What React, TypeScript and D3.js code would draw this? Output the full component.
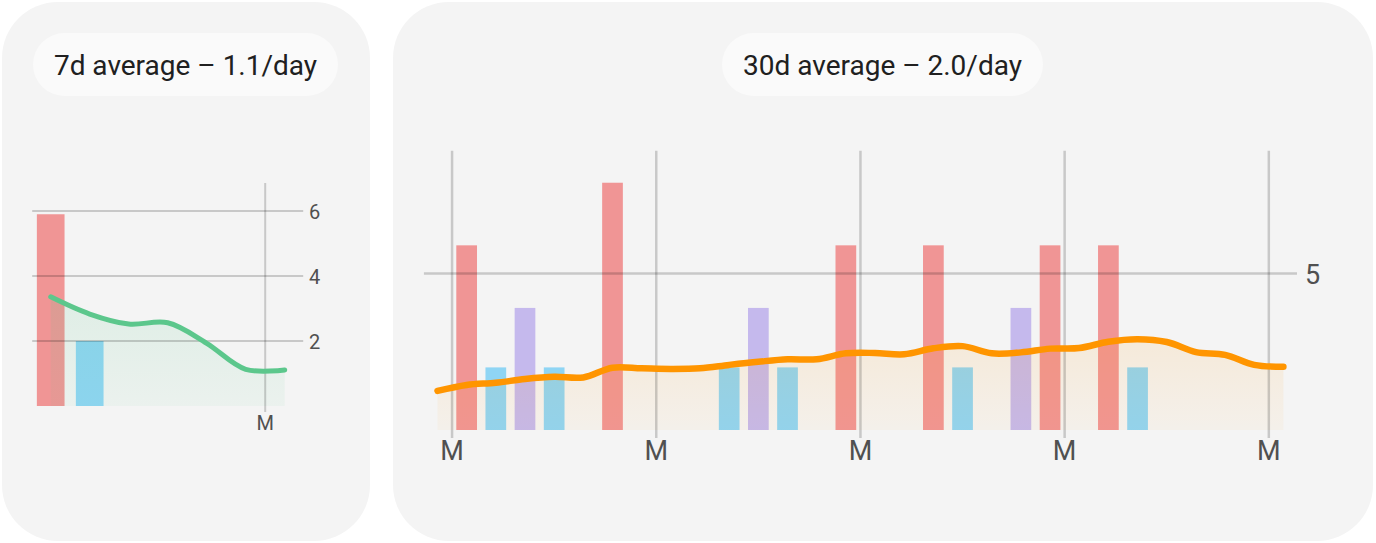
import * as d3 from 'd3';
import React, { useEffect, useRef } from 'react';

// daily counts for the last 30 days, one bar colour per kind
const redBars = [0, 5.9, 0, 0, 0, 0, 7.9, 0, 0, 0, 0, 0, 0, 0, 5.9, 0, 0, 5.9, 0, 0, 0, 5.9, 0, 5.9, 0, 0, 0, 0, 0, 0];
const blueBars = [0, 0, 2, 0, 2, 0, 0, 0, 0, 0, 2, 0, 2, 0, 0, 0, 0, 0, 2, 0, 0, 0, 0, 0, 2, 0, 0, 0, 0, 0];
const purpleBars = [0, 0, 0, 3.9, 0, 0, 0, 0, 0, 0, 0, 3.9, 0, 0, 0, 0, 0, 0, 0, 0, 3.9, 0, 0, 0, 0, 0, 0, 0, 0, 0];

// rolling averages
const avg30 = [
  1.25, 1.44, 1.51, 1.63, 1.7, 1.68, 1.99, 1.97, 1.95, 1.97, 2.08, 2.18, 2.26, 2.26, 2.45,
  2.46, 2.42, 2.61, 2.68, 2.45, 2.48, 2.6, 2.62, 2.82, 2.9, 2.81, 2.49, 2.4, 2.08, 2.02,
];
const avg7 = [3.36, 2.83, 2.52, 2.56, 1.93, 1.13, 1.11];

// the 7d panel shows the last week of the 30 days
const weekStart = 23;

const mondays30 = [1, 8, 15, 22, 29];
const mondays7 = [6];
const yTicks30 = [5];
const yTicks7 = [2, 4, 6];
const titles = ['7d average – 1.1/day', '30d average – 2.0/day'];

const colors = {
  red: '#f09595',
  blue: '#8fd5f4',
  purple: '#c5b9ed',
  panel: '#f4f4f4',
  pill: '#fafafa',
  grid: 'rgba(0,0,0,0.18)',
  label: '#505050',
};

const FONT = 'Roboto, sans-serif';

type PanelCfg = {
  id: string;
  title: string;
  box: [number, number, number, number];
  pill: [number, number, number, number];
  red: number[];
  blue: number[];
  purple: number[];
  avg: number[];
  mondays: number[];
  yTicks: number[];
  xRange: [number, number];
  yRange: [number, number];
  yMax: number;
  lineColor: string;
  lineWidth: number;
  gridWidth: number;
  areaTop: number;
  areaBottom: number;
  fontSize: number;
  tickX: number;
  mBelow: number;
  mLabelY: number;
};

const drawPanel = (svg: any, cfg: PanelCfg) => {
  const g = svg.append('g');
  const [bx, by, bw, bh] = cfg.box;
  g.append('rect')
    .attr('x', bx)
    .attr('y', by)
    .attr('width', bw)
    .attr('height', bh)
    .attr('rx', 56)
    .attr('fill', colors.panel);

  const [px, py, pw, ph] = cfg.pill;
  g.append('rect')
    .attr('x', px)
    .attr('y', py)
    .attr('width', pw)
    .attr('height', ph)
    .attr('rx', ph / 2)
    .attr('fill', colors.pill);
  g.append('text')
    .attr('x', px + pw / 2)
    .attr('y', py + ph / 2 + 1)
    .attr('text-anchor', 'middle')
    .attr('dominant-baseline', 'central')
    .style('font-family', FONT)
    .style('font-size', '28px')
    .style('fill', '#202020')
    .text(cfg.title);

  const days = d3.range(cfg.avg.length);
  const x = d3.scaleBand<number>().domain(days).range(cfg.xRange).paddingInner(0.29).paddingOuter(0.145);
  const y = d3.scaleLinear().domain([0, cfg.yMax]).range(cfg.yRange);
  const cx = (i: number) => (x(i) as number) + x.bandwidth() / 2;
  const slotStart = (i: number) => (x(i) as number) - (x.step() * x.paddingInner()) / 2;

  const series = [
    { values: cfg.red, color: colors.red },
    { values: cfg.blue, color: colors.blue },
    { values: cfg.purple, color: colors.purple },
  ];
  series.forEach((s) => {
    g.append('g')
      .selectAll('rect')
      .data(s.values.map((v, i) => ({ v, i })).filter((d) => d.v > 0))
      .enter()
      .append('rect')
      .attr('x', (d: any) => x(d.i))
      .attr('y', (d: any) => y(d.v))
      .attr('width', x.bandwidth())
      .attr('height', (d: any) => y(0) - y(d.v))
      .attr('fill', s.color);
  });

  // area under the average line
  const grad = svg
    .append('defs')
    .append('linearGradient')
    .attr('id', cfg.id + '-grad')
    .attr('gradientUnits', 'userSpaceOnUse')
    .attr('x1', 0)
    .attr('x2', 0)
    .attr('y1', y(d3.max(cfg.avg) as number))
    .attr('y2', y(0));
  grad.append('stop').attr('offset', '0%').attr('stop-color', cfg.lineColor).attr('stop-opacity', cfg.areaTop);
  grad.append('stop').attr('offset', '100%').attr('stop-color', cfg.lineColor).attr('stop-opacity', cfg.areaBottom);

  const curve = d3.curveCatmullRom.alpha(0.5);

  const area = d3
    .area<number>()
    .x((_, i) => cx(i))
    .y0(y(0))
    .y1((d) => y(d))
    .curve(curve);
  g.append('path').datum(cfg.avg).attr('d', area).attr('fill', `url(#${cfg.id}-grad)`);

  // grid
  g.append('g')
    .selectAll('line')
    .data(cfg.yTicks)
    .enter()
    .append('line')
    .attr('x1', cfg.xRange[0] + 1)
    .attr('x2', cfg.xRange[1] - 1)
    .attr('y1', (d: number) => y(d))
    .attr('y2', (d: number) => y(d))
    .attr('stroke', colors.grid)
    .attr('stroke-width', cfg.gridWidth);

  g.append('g')
    .selectAll('line')
    .data(cfg.mondays)
    .enter()
    .append('line')
    .attr('x1', (d: number) => slotStart(d))
    .attr('x2', (d: number) => slotStart(d))
    .attr('y1', cfg.yRange[1])
    .attr('y2', y(0) + cfg.mBelow)
    .attr('stroke', colors.grid)
    .attr('stroke-width', cfg.gridWidth);

  const line = d3
    .line<number>()
    .x((_, i) => cx(i))
    .y((d) => y(d))
    .curve(curve);
  g.append('path')
    .datum(cfg.avg)
    .attr('d', line)
    .attr('fill', 'none')
    .attr('stroke', cfg.lineColor)
    .attr('stroke-width', cfg.lineWidth)
    .attr('stroke-linecap', 'round')
    .attr('stroke-linejoin', 'round');

  g.append('g')
    .selectAll('text')
    .data(cfg.yTicks)
    .enter()
    .append('text')
    .attr('x', cfg.tickX)
    .attr('y', (d: number) => y(d) + 1)
    .attr('dominant-baseline', 'central')
    .style('font-family', FONT)
    .style('font-size', cfg.fontSize + 'px')
    .style('fill', colors.label)
    .text((d: number) => d);

  g.append('g')
    .selectAll('text')
    .data(cfg.mondays)
    .enter()
    .append('text')
    .attr('x', (d: number) => slotStart(d))
    .attr('y', cfg.mLabelY)
    .attr('text-anchor', 'middle')
    .style('font-family', FONT)
    .style('font-size', cfg.fontSize + 'px')
    .style('fill', colors.label)
    .text('M');
};

const App = () => {
  const svgRef = useRef(null);

  useEffect(() => {
    const svg = d3.select(svgRef.current);
    svg.selectAll('*').remove();

    drawPanel(svg, {
      id: 'week',
      title: titles[0],
      box: [2, 2, 368, 539],
      pill: [33, 33, 305, 63],
      red: redBars.slice(weekStart, weekStart + 7),
      blue: blueBars.slice(weekStart, weekStart + 7),
      purple: purpleBars.slice(weekStart, weekStart + 7),
      avg: avg7,
      mondays: mondays7,
      yTicks: yTicks7,
      xRange: [31.2, 304.2],
      yRange: [406, 183],
      yMax: 223 / 32.5,
      lineColor: '#5cc78c',
      lineWidth: 5,
      gridWidth: 2,
      areaTop: 0.14,
      areaBottom: 0.06,
      fontSize: 20,
      tickX: 309,
      mBelow: 6,
      mLabelY: 430,
    });

    drawPanel(svg, {
      id: 'month',
      title: titles[1],
      box: [393, 2, 980, 539],
      pill: [722, 33, 321, 63],
      red: redBars,
      blue: blueBars,
      purple: purpleBars,
      avg: avg30,
      mondays: mondays30,
      yTicks: yTicks30,
      xRange: [422.9, 1298],
      yRange: [430, 150.7],
      yMax: 279.3 / 31.3,
      lineColor: '#ff9500',
      lineWidth: 6.5,
      gridWidth: 2.5,
      areaTop: 0.11,
      areaBottom: 0.04,
      fontSize: 27,
      tickX: 1305,
      mBelow: 8,
      mLabelY: 459.5,
    });
  }, []);

  return (
    <div style={{ position: 'absolute', left: 0, top: 0 }}>
      <svg ref={svgRef} width={1376} height={543} style={{ display: 'block', background: '#fff' }} />
    </div>
  );
};

export default App;
